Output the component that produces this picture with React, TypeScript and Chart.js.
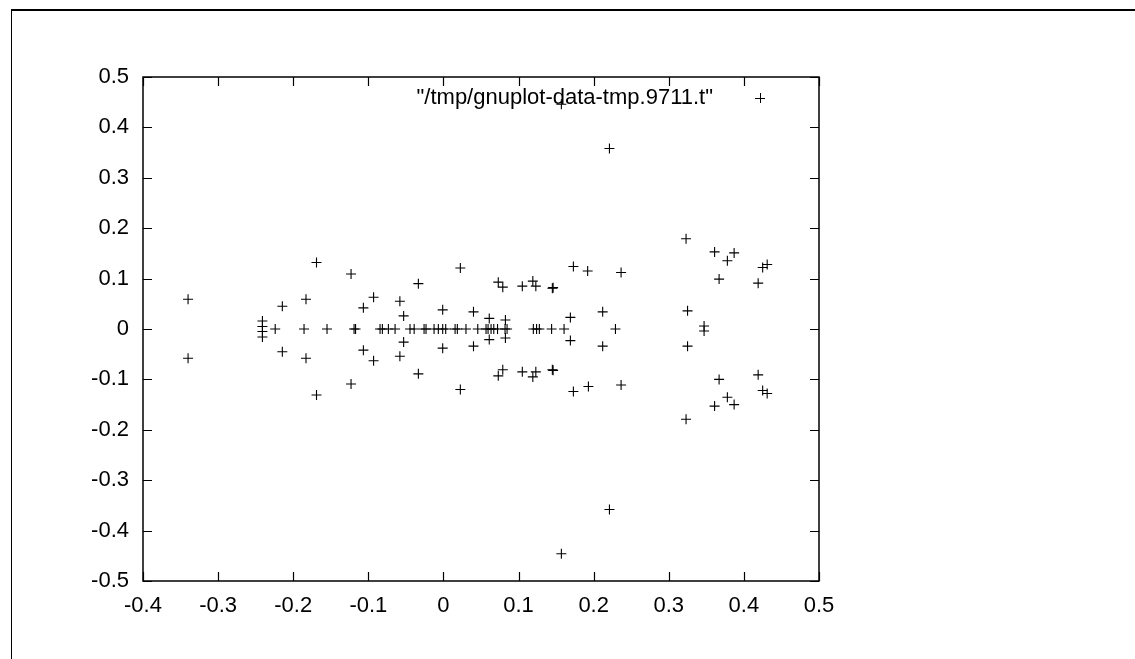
import React, { useEffect, useRef } from "react";
import { Chart, registerables } from "chart.js";

Chart.register(...registerables);

const seriesLabel = '"/tmp/gnuplot-data-tmp.9711.t"';

const pointX = [
  -0.34, -0.34,
  -0.241, -0.241, -0.241, -0.241,
  -0.224,
  -0.2145, -0.2145,
  -0.183, -0.183,
  -0.1856,
  -0.169, -0.169,
  -0.155,
  -0.123, -0.123,
  -0.119, -0.117,
  -0.1066, -0.1066,
  -0.093, -0.093,
  -0.0844, -0.0813, -0.0733, -0.0644,
  -0.058, -0.058,
  -0.053, -0.053,
  -0.0445, -0.039,
  -0.0334, -0.0334,
  -0.0258, -0.0232, -0.0125, -0.0068, -0.001, 0.003, 0.0155, 0.0185, 0.03,
  -0.001, -0.001,
  0.0225, 0.0225,
  0.04, 0.04,
  0.0457, 0.0567, 0.0594, 0.0634, 0.067, 0.072, 0.082, 0.0847,
  0.061, 0.061,
  0.073, 0.073,
  0.079, 0.079,
  0.0825, 0.0825,
  0.105, 0.105,
  0.119, 0.119,
  0.123, 0.123,
  0.1197, 0.124, 0.1277, 0.144, 0.1606,
  0.145, 0.145, 0.146, 0.146,
  0.157, 0.157,
  0.169, 0.169,
  0.173, 0.173,
  0.192, 0.193,
  0.212, 0.212,
  0.221, 0.221,
  0.229,
  0.2365, 0.2365,
  0.323, 0.323,
  0.325, 0.325,
  0.347, 0.347,
  0.361, 0.361,
  0.367, 0.367,
  0.378, 0.378,
  0.387, 0.387,
  0.419, 0.419,
  0.425, 0.425,
  0.431, 0.431,
];

const pointY = [
  0.059, -0.058,
  0.016, 0.005, -0.005, -0.016,
  0,
  0.045, -0.045,
  0.059, -0.058,
  0,
  0.132, -0.131,
  0,
  0.109, -0.109,
  0, 0,
  0.042, -0.042,
  0.063, -0.063,
  0, 0, 0, 0,
  0.055, -0.054,
  0.026, -0.026,
  0, 0,
  0.09, -0.089,
  0, 0, 0, 0, 0, 0, 0, 0, 0,
  0.038, -0.038,
  0.121, -0.12,
  0.034, -0.034,
  0, 0, 0, 0, 0, 0, 0, 0,
  0.021, -0.021,
  0.093, -0.093,
  0.083, -0.081,
  0.018, -0.018,
  0.085, -0.085,
  0.095, -0.095,
  0.085, -0.085,
  0, 0, 0, 0, 0,
  0.081, -0.081, 0.082, -0.082,
  0.446, -0.446,
  0.023, -0.023,
  0.124, -0.124,
  0.115, -0.114,
  0.034, -0.034,
  0.358, -0.358,
  0,
  0.112, -0.111,
  0.179, -0.179,
  0.036, -0.034,
  0.006, -0.004,
  0.153, -0.153,
  0.099, -0.1,
  0.1355, -0.1355,
  0.151, -0.15,
  0.091, -0.091,
  0.122, -0.122,
  0.128, -0.128,
];

const xTickValues = [-0.4, -0.3, -0.2, -0.1, 0, 0.1, 0.2, 0.3, 0.4, 0.5];
const yTickValues = [-0.5, -0.4, -0.3, -0.2, -0.1, 0, 0.1, 0.2, 0.3, 0.4, 0.5];

const FONT = '"Liberation Sans", Arial, Helvetica, sans-serif';
const FONT_SIZE = 22;

const framePlugin = {
  id: "gnuplotFrame",
  afterDatasetsDraw(chart: any) {
    const { ctx, chartArea } = chart;
    const { left, right, top, bottom } = chartArea;
    const xs = chart.scales.x;
    const ys = chart.scales.y;
    const tl = 9;
    ctx.save();
    ctx.strokeStyle = "#000";
    ctx.lineWidth = 1.5;
    ctx.beginPath();
    ctx.rect(left, top, right - left, bottom - top);
    ctx.stroke();
    ctx.lineWidth = 1.2;
    ctx.beginPath();
    xTickValues.forEach((v) => {
      const px = Math.round(xs.getPixelForValue(v)) + 0.5;
      ctx.moveTo(px, bottom);
      ctx.lineTo(px, bottom - tl);
      ctx.moveTo(px, top);
      ctx.lineTo(px, top + tl);
    });
    yTickValues.forEach((v) => {
      const py = Math.round(ys.getPixelForValue(v)) + 0.5;
      ctx.moveTo(left, py);
      ctx.lineTo(left + tl, py);
      ctx.moveTo(right, py);
      ctx.lineTo(right - tl, py);
    });
    ctx.stroke();

    // key
    const ky = top + 21;
    const sx = right - 59;
    ctx.fillStyle = "#000";
    ctx.font = `${FONT_SIZE}px ${FONT}`;
    ctx.textAlign = "right";
    ctx.textBaseline = "middle";
    ctx.fillText(seriesLabel, right - 106, ky);
    ctx.lineWidth = 1;
    ctx.beginPath();
    ctx.moveTo(sx - 5, ky + 0.5);
    ctx.lineTo(sx + 5, ky + 0.5);
    ctx.moveTo(sx + 0.5, ky - 5);
    ctx.lineTo(sx + 0.5, ky + 5);
    ctx.stroke();
    ctx.restore();
  },
};

const fmt = (v: number) => String(Number(Number(v).toFixed(1)));

export default function App() {
  const ref = useRef<HTMLCanvasElement>(null);

  useEffect(() => {
    if (!ref.current) return;
    const data = pointX.map((x, i) => ({ x, y: pointY[i] }));
    const chart = new Chart(ref.current, {
      type: "scatter",
      data: {
        datasets: [
          {
            label: seriesLabel,
            data,
            pointStyle: "cross",
            pointRadius: 5,
            pointHoverRadius: 5,
            borderColor: "#000",
            backgroundColor: "#000",
            borderWidth: 1.1,
            pointBorderWidth: 1.1,
          },
        ],
      },
      options: {
        animation: false,
        responsive: false,
        devicePixelRatio: 1,
        events: [],
        layout: { padding: { left: 0, top: 77, right: 316, bottom: 0 } },
        plugins: {
          legend: { display: false },
          tooltip: { enabled: false },
        },
        scales: {
          x: {
            type: "linear",
            min: -0.4,
            max: 0.5,
            grid: { display: false, drawTicks: false },
            border: { display: false },
            afterBuildTicks: (s: any) => {
              s.ticks = xTickValues.map((value) => ({ value }));
            },
            afterFit: (s: any) => {
              s.height = 78;
            },
            ticks: {
              color: "#000",
              padding: 12,
              maxRotation: 0,
              autoSkip: false,
              font: { family: FONT, size: FONT_SIZE },
              callback: (v: any) => fmt(v),
            },
          },
          y: {
            type: "linear",
            min: -0.5,
            max: 0.5,
            grid: { display: false, drawTicks: false },
            border: { display: false },
            afterBuildTicks: (s: any) => {
              s.ticks = yTickValues.map((value) => ({ value }));
            },
            afterFit: (s: any) => {
              s.width = 143;
            },
            ticks: {
              color: "#000",
              padding: 14,
              autoSkip: false,
              font: { family: FONT, size: FONT_SIZE },
              callback: (v: any) => fmt(v),
            },
          },
        },
      },
      plugins: [framePlugin],
    });
    return () => chart.destroy();
  }, []);

  return (
    <div
      style={{
        position: "fixed",
        left: 0,
        top: 0,
        width: 1135,
        height: 659,
        background: "#fff",
        overflow: "hidden",
      }}
    >
      <div
        style={{
          position: "absolute",
          left: 11,
          top: 9,
          width: 1135,
          height: 700,
          borderTop: "2px solid #000",
          borderLeft: "1px solid #000",
          boxSizing: "border-box",
        }}
      />
      <canvas
        ref={ref}
        width={1135}
        height={659}
        style={{ position: "absolute", left: 0, top: 0, width: 1135, height: 659 }}
      />
    </div>
  );
}
